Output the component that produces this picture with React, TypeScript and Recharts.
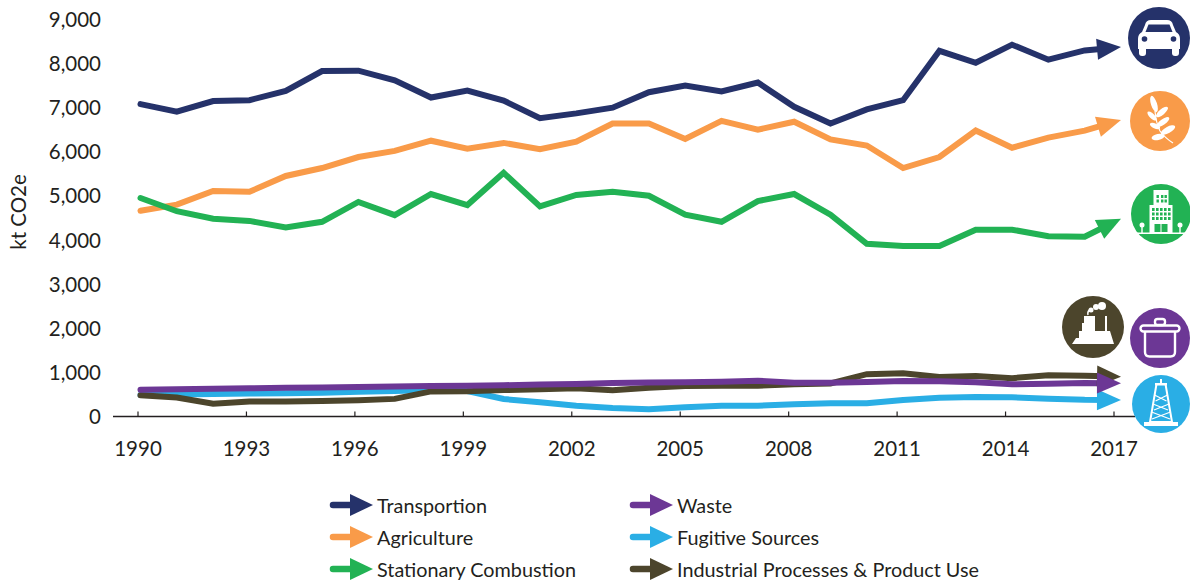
import React from 'react';
import { LineChart, Line, XAxis, YAxis, Legend } from 'recharts';

const years = [
  1990, 1991, 1992, 1993, 1994, 1995, 1996, 1997, 1998, 1999, 2000, 2001, 2002, 2003,
  2004, 2005, 2006, 2007, 2008, 2009, 2010, 2011, 2012, 2013, 2014, 2015, 2016, 2017,
];
const yearTicks = [1990, 1993, 1996, 1999, 2002, 2005, 2008, 2011, 2014, 2017];
const valueTicks = [0, 1000, 2000, 3000, 4000, 5000, 6000, 7000, 8000, 9000];

const transportation = [
  7090, 6920, 7160, 7180, 7390, 7840, 7850, 7630, 7240, 7400, 7170, 6770, 6880, 7010,
  7360, 7510, 7380, 7580, 7030, 6650, 6970, 7180, 8300, 8030, 8440, 8100, 8310, 8385,
];
const agriculture = [
  4670, 4810, 5120, 5100, 5460, 5640, 5890, 6030, 6260, 6080, 6210, 6070, 6240, 6650,
  6650, 6300, 6710, 6510, 6690, 6290, 6150, 5640, 5890, 6490, 6100, 6330, 6490, 6730,
];
const stationary = [
  4960, 4660, 4490, 4440, 4290, 4420, 4870, 4570, 5050, 4800, 5530, 4770, 5030, 5100,
  5010, 4580, 4420, 4890, 5050, 4580, 3920, 3870, 3870, 4240, 4240, 4090, 4080, 4490,
];
const waste = [
  610, 620, 630, 640, 650, 660, 670, 680, 690, 700, 710, 725, 740, 760,
  770, 780, 790, 812, 767, 767, 785, 805, 800, 775, 730, 745, 760, 753,
];
const fugitive = [
  490, 500, 510, 520, 530, 540, 560, 580, 600, 580, 397, 322, 245, 193,
  163, 208, 245, 245, 280, 300, 300, 375, 427, 442, 435, 405, 380, 375,
];
const industrial = [
  480, 430, 290, 340, 340, 350, 370, 400, 570, 575, 600, 620, 640, 595,
  655, 692, 700, 700, 730, 750, 960, 980, 895, 920, 870, 935, 925, 903,
];

const NAVY = '#25326A';
const ORANGE = '#F99B49';
const GREEN = '#22B254';
const PURPLE = '#6C3795';
const SKY = '#2AAEE5';
const OLIVE = '#4C452C';
const INK = '#231F20';
const FONT = 'Lato, sans-serif';

const rows = years.map((year, i) => ({
  year,
  transportation: transportation[i],
  agriculture: agriculture[i],
  stationary: stationary[i],
  waste: waste[i],
  fugitive: fugitive[i],
  industrial: industrial[i],
}));

const legendLeft = [
  { label: 'Transportion', color: NAVY },
  { label: 'Agriculture', color: ORANGE },
  { label: 'Stationary Combustion', color: GREEN },
];
const legendRight = [
  { label: 'Waste', color: PURPLE },
  { label: 'Fugitive Sources', color: SKY },
  { label: 'Industrial Processes & Product Use', color: OLIVE },
];

// arrow head ending on the last point, turned along the final segment
const arrowDot = (color: string) => (props: any) => {
  const { cx, cy, index, points } = props;
  if (index !== years.length - 1) return <g key={index} />;
  const prev = points[index - 1];
  const angle = (Math.atan2(cy - prev.y, cx - prev.x) * 180) / Math.PI;
  return (
    <polygon
      key={index}
      points="0,0 -24,-10.5 -24,10.5"
      fill={color}
      transform={`translate(${cx} ${cy}) rotate(${angle})`}
    />
  );
};

const YearTick = ({ x, y, payload }: any) => (
  <g>
    <line x1={x} x2={x} y1={y} y2={y - 5} stroke={INK} strokeWidth={1.2} />
    <text x={x} y={y + 39} textAnchor="middle" fontSize={20.5} fontFamily={FONT} fill={INK}>
      {payload.value}
    </text>
  </g>
);

const LegendEntry = ({ label, color }: { label: string; color: string }) => (
  <div style={{ display: 'flex', alignItems: 'center', height: 32 }}>
    <svg width={46} height={26} style={{ flex: 'none' }}>
      <line x1={5} x2={26} y1={13} y2={13} stroke={color} strokeWidth={6.5} strokeLinecap="round" />
      <polygon points="45,13 22,2 22,24" fill={color} />
    </svg>
    <span style={{ fontFamily: FONT, fontSize: 19.8, color: INK, marginLeft: 3, whiteSpace: 'nowrap' }}>{label}</span>
  </div>
);

const KeyBlock = () => (
  <div style={{ display: 'flex' }}>
    <div style={{ width: 300 }}>
      {legendLeft.map((e) => <LegendEntry key={e.label} {...e} />)}
    </div>
    <div>
      {legendRight.map((e) => <LegendEntry key={e.label} {...e} />)}
    </div>
  </div>
);

const Badge = ({ x, y, r, color, children }: any) => (
  <g transform={`translate(${x} ${y})`}>
    <circle r={r} fill={color} />
    {children}
  </g>
);

const CarIcon = () => (
  <Badge x={1159} y={38} r={31} color={NAVY}>
    <path d="M-14 -13Q-13 -18 -8 -18H8Q13 -18 14 -13L17 -6Q21 -4 21 1V11H-21V1Q-21 -4 -17 -6Z" fill="#fff" />
    <path d="M-10.500 -13.500H10.500L13.500 -6H-13.500Z" fill={NAVY} />
    <circle cx={-14.500} cy={1} r={2.800} fill={NAVY} />
    <circle cx={14.500} cy={1} r={2.800} fill={NAVY} />
    <rect x={-20} y={8} width={7} height={10} rx={3} fill="#fff" />
    <rect x={13} y={8} width={7} height={10} rx={3} fill="#fff" />
  </Badge>
);

const LeafIcon = () => (
  <Badge x={1160} y={121} r={30} color={ORANGE}>
    <path d="M-5 -10Q-4 2 0 10Q5 17 13 22" fill="none" stroke="#fff" strokeWidth={1.2} />
    <ellipse cx={-6} cy={-17} rx={3} ry={8.500} fill="#fff" transform="rotate(-18 -6 -17)" />
    <ellipse cx={2} cy={-9} rx={2.800} ry={7.500} fill="#fff" transform="rotate(50 2 -9)" />
    <ellipse cx={-8} cy={-5} rx={2.500} ry={6} fill="#fff" transform="rotate(-45 -8 -5)" />
    <ellipse cx={3} cy={1} rx={2.800} ry={7.500} fill="#fff" transform="rotate(55 3 1)" />
    <ellipse cx={-5} cy={5} rx={2.500} ry={5.500} fill="#fff" transform="rotate(-65 -5 5)" />
    <ellipse cx={8} cy={9} rx={3.200} ry={8} fill="#fff" transform="rotate(62 8 9)" />
    <ellipse cx={-2} cy={16} rx={3} ry={6.500} fill="#fff" transform="rotate(80 -2 16)" />
  </Badge>
);

const windowRows = [-19, -14.500];
const officeRows = [-6, -1.500, 3];

const BuildingIcon = () => (
  <Badge x={1161} y={214} r={30} color={GREEN}>
    <rect x={-7.500} y={-24} width={15} height={17} fill="#fff" />
    <rect x={-11.500} y={-9} width={23} height={29} fill="#fff" />
    <rect x={-25} y={18.500} width={50} height={1.500} fill="#fff" />
    {windowRows.map((wy) => [-4.500, 0, 3.500].map((wx) => (
      <rect key={`${wx}${wy}`} x={wx} y={wy} width={2.400} height={3} fill={GREEN} />
    )))}
    {officeRows.map((wy) => [-9, -5, -1, 3, 7].map((wx) => (
      <rect key={`${wx}${wy}`} x={wx} y={wy} width={2.600} height={3} fill={GREEN} />
    )))}
    <rect x={-6.500} y={10} width={13} height={8} fill={GREEN} />
    <rect x={-0.500} y={10} width={1} height={8} fill="#fff" />
    <circle cx={-19} cy={11} r={2.500} fill="#fff" />
    <rect x={-19.700} y={11} width={1.400} height={8} fill="#fff" />
    <circle cx={19} cy={11} r={2.500} fill="#fff" />
    <rect x={18.300} y={11} width={1.400} height={8} fill="#fff" />
  </Badge>
);

const FactoryIcon = () => (
  <Badge x={1093} y={327} r={31} color={OLIVE}>
    <path d="M-21 17L-17 11H-14V4H-11V-4H-9V-11H2V4H12V-11H14V4H17L21 17Z" fill="#fff" />
    <circle cx={-2} cy={-17} r={2.500} fill="#fff" />
    <circle cx={3} cy={-20} r={3} fill="#fff" />
    <circle cx={9} cy={-21} r={4} fill="#fff" />
    <path d="M-5 -12Q-6 -16 -2 -18" fill="none" stroke="#fff" strokeWidth={1.500} />
  </Badge>
);

const PotIcon = () => (
  <Badge x={1160} y={338} r={30} color={PURPLE}>
    <rect x={-5} y={-19} width={10} height={6} rx={2.500} fill="none" stroke="#fff" strokeWidth={2.400} />
    <rect x={-19.500} y={-12.500} width={39} height={6} rx={3} fill="none" stroke="#fff" strokeWidth={2.400} />
    <path d="M-15 -6.500V14Q-15 18.500 -10.500 18.500H10.500Q15 18.500 15 14V-6.500" fill="none" stroke="#fff" strokeWidth={2.400} />
  </Badge>
);

const RigIcon = () => (
  <Badge x={1161} y={404} r={29} color={SKY}>
    <path d="M-4.500 -20H4.500L11 18H-11Z" fill="none" stroke="#fff" strokeWidth={2} />
    <path d="M-6.500 -9L5.500 -3M6.500 -9L-5.500 -3M-8 0L7 6M8 0L-7 6M-9.500 8L9 15M9.500 8L-9 15" stroke="#fff" strokeWidth={1.300} />
    <rect x={-1} y={-25} width={2} height={5} fill="#fff" />
    <rect x={-6} y={-21} width={12} height={2.500} fill="#fff" />
    <rect x={-17} y={18} width={34} height={4} fill="#fff" />
  </Badge>
);

const seriesLine = (key: string, color: string) => (
  <Line
    xAxisId="series"
    dataKey={key}
    stroke={color}
    strokeWidth={6}
    strokeLinecap="round"
    strokeLinejoin="miter"
    dot={arrowDot(color)}
    activeDot={false}
    legendType="none"
    isAnimationActive={false}
  />
);

export default function App() {
  return (
    <div style={{ position: 'absolute', left: 0, top: 0, width: 1190, height: 582, background: '#fff' }}>
      {/* stop the strokes inside the arrow heads so they don't poke out at the tip */}
      <style>{'.recharts-line-curve { clip-path: url(#lineStop); }'}</style>
      <LineChart
        width={1190}
        height={582}
        data={rows}
        margin={{ top: 20, right: 55, bottom: 135.500, left: 0 }}
      >
        {/* the lines run slightly wider than the labelled axis, so they get their own hidden one */}
        <XAxis xAxisId="series" dataKey="year" type="category" hide padding={{ left: 27.5, right: 14 }} />
        <XAxis
          xAxisId="labels"
          dataKey="year"
          type="category"
          height={30}
          padding={{ left: 25, right: 21 }}
          ticks={yearTicks}
          interval={0}
          tick={YearTick}
          tickLine={false}
          tickSize={0}
          tickMargin={0}
          axisLine={{ stroke: INK, strokeWidth: 1.500 }}
        />
        <YAxis
          domain={[0, 9000]}
          ticks={valueTicks}
          width={113}
          axisLine={false}
          tickLine={false}
          tickSize={0}
          tickMargin={12}
          tickFormatter={(v: number) => v.toLocaleString('en-US')}
          tick={{ fontSize: 20.5, fontFamily: FONT, fill: INK }}
        />
        {seriesLine('transportation', NAVY)}
        {seriesLine('agriculture', ORANGE)}
        {seriesLine('stationary', GREEN)}
        {seriesLine('fugitive', SKY)}
        {seriesLine('industrial', OLIVE)}
        {seriesLine('waste', PURPLE)}
        <Legend
          verticalAlign="middle"
          align="center"
          content={KeyBlock}
          wrapperStyle={{ position: 'absolute', left: 328, top: 489, width: 700 }}
        />
      </LineChart>
      <svg width={1190} height={582} style={{ position: 'absolute', left: 0, top: 0, pointerEvents: 'none' }}>
        <defs>
          <clipPath id="lineStop">
            <rect x={0} y={0} width={1106} height={582} />
          </clipPath>
        </defs>
        <text
          transform="translate(26 212) rotate(-90)"
          textAnchor="middle"
          fontSize={20.5}
          fontFamily={FONT}
          fill={INK}
        >
          kt CO2e
        </text>
        <CarIcon />
        <LeafIcon />
        <BuildingIcon />
        <FactoryIcon />
        <PotIcon />
        <RigIcon />
      </svg>
    </div>
  );
}
